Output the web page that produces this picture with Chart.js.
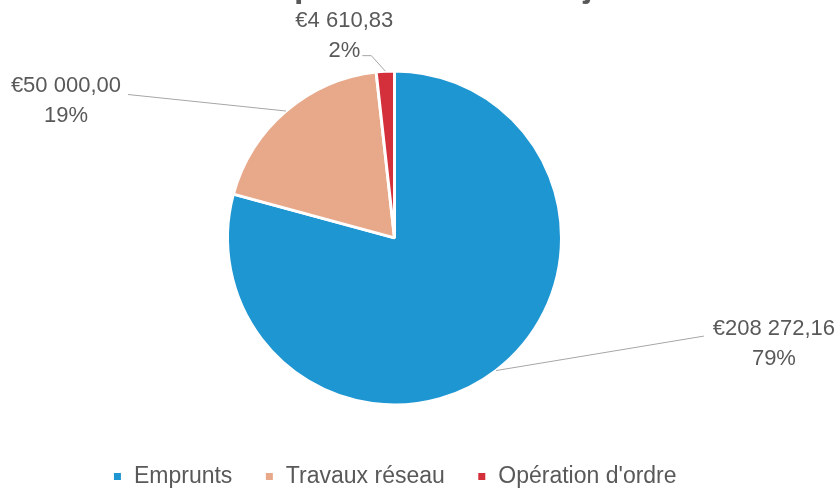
<!DOCTYPE html>
<html><head><meta charset="utf-8">
<script src="https://cdn.jsdelivr.net/npm/chart.js@4/dist/chart.umd.min.js"></script>
<style>
html,body{margin:0;padding:0;background:#fff;overflow:hidden;width:839px;height:493px}
#wrap{position:absolute;left:0;top:-40px;width:839px;height:538px}
</style></head>
<body><div id="wrap"><canvas id="c" width="839" height="538"></canvas></div>
<script>
const chartTitle = "Total dépenses : 2022 Projet";
const categories = ["Emprunts", "Travaux réseau", "Opération d'ordre"];
const amounts = [208272.16, 50000.00, 4610.83];
const colors = ["#1E96D2", "#E8A98A", "#D3303B"];
// label placement relative to the slice's outer mid-point (dx,dy), leader start relative to label centre (lx,ly), optional elbow length
const labelPlacement = [
  {dx: 278, dy: -26.5, lx: -70, ly: -8, elbow: 0},
  {dx: -220, dy: -10.5, lx: 62, ly: -6, elbow: 0},
  {dx: -41, dy: -35.5, lx: 18, ly: 20, elbow: 9}
];
const total = amounts.reduce((a, b) => a + b, 0);
function fmtEuro(v) {
  const parts = v.toFixed(2).split('.');
  return '€' + parts[0].replace(/\B(?=(\d{3})+(?!\d))/g, ' ') + ',' + parts[1];
}
const outLabels = {
  id: 'outLabels',
  afterDatasetsDraw(chart) {
    const ctx = chart.ctx;
    const meta = chart.getDatasetMeta(0);
    meta.data.forEach((arc, i) => {
      const p = arc.getProps(['x', 'y', 'startAngle', 'endAngle', 'outerRadius'], true);
      const mid = (p.startAngle + p.endAngle) / 2;
      const ax = p.x + Math.cos(mid) * p.outerRadius;
      const ay = p.y + Math.sin(mid) * p.outerRadius;
      const pl = labelPlacement[i];
      const cx = ax + pl.dx, cy = ay + pl.dy;
      ctx.save();
      ctx.strokeStyle = '#a6a6a6';
      ctx.lineWidth = 1;
      ctx.beginPath();
      ctx.moveTo(cx + pl.lx, cy + pl.ly);
      if (pl.elbow) ctx.lineTo(cx + pl.lx + pl.elbow, cy + pl.ly);
      ctx.lineTo(ax, ay);
      ctx.stroke();
      ctx.fillStyle = '#595959';
      ctx.font = '22px "Liberation Sans", Arial, sans-serif';
      ctx.textAlign = 'center';
      ctx.textBaseline = 'middle';
      ctx.fillText(fmtEuro(amounts[i]), cx, cy - 15);
      ctx.fillText(Math.round(amounts[i] / total * 100) + '%', cx, cy + 15);
      ctx.restore();
    });
  }
};
new Chart(document.getElementById('c'), {
  type: 'pie',
  data: {
    labels: categories,
    datasets: [{
      data: amounts,
      backgroundColor: colors,
      borderColor: '#ffffff',
      borderWidth: 3,
      radius: 167
    }]
  },
  options: {
    responsive: false,
    animation: false,
    devicePixelRatio: 1,
    layout: {padding: {left: 0, right: 50, top: 0, bottom: 0}},
    plugins: {
      tooltip: {enabled: false},
      title: {
        display: true,
        text: chartTitle,
        color: '#595959',
        font: {family: '"Liberation Sans", Arial, sans-serif', size: 34, weight: 'bold', lineHeight: 1.2},
        padding: {top: 7, bottom: 35}
      },
      legend: {
        position: 'bottom',
        labels: {
          color: '#595959',
          font: {family: '"Liberation Sans", Arial, sans-serif', size: 23},
          boxWidth: 10,
          boxHeight: 10,
          padding: 32
        }
      }
    }
  },
  plugins: [outLabels]
});
</script>
</body></html>
